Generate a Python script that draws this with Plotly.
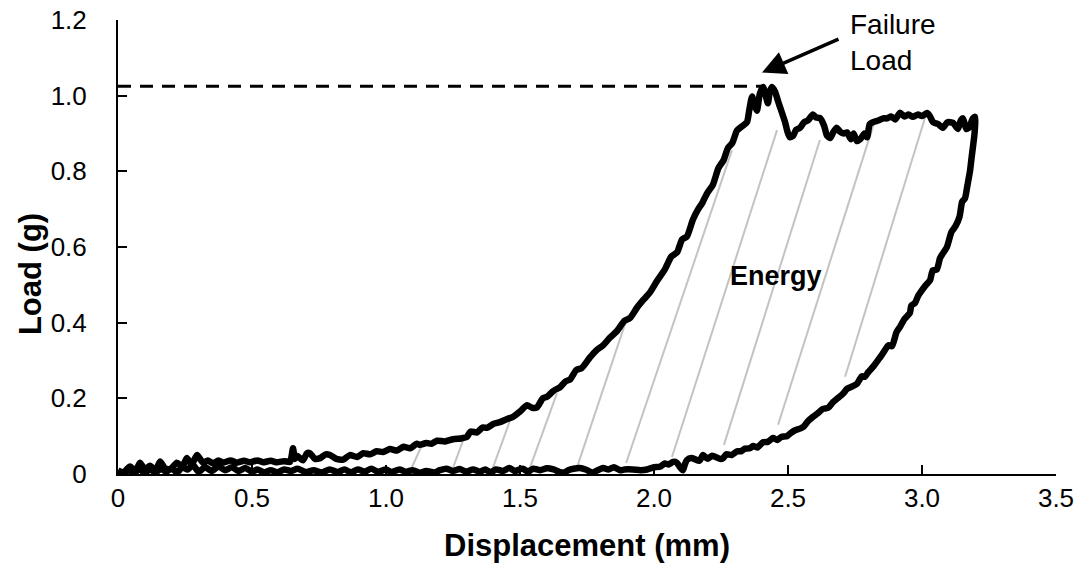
import plotly.graph_objects as go

# Loading branch (upper curve), displacement in mm and load in g
load_x = [0.000, 0.020, 0.045, 0.065, 0.082, 0.100, 0.119, 0.140, 0.157, 0.175, 0.195, 0.220,
          0.240, 0.257, 0.275, 0.295, 0.317, 0.335, 0.354, 0.375, 0.392, 0.420, 0.444, 0.470,
          0.493, 0.520, 0.541, 0.570, 0.593, 0.620, 0.642, 0.653, 0.660, 0.668, 0.690, 0.705,
          0.716, 0.735, 0.754, 0.775, 0.791, 0.815, 0.840, 0.865, 0.892, 0.915, 0.940, 0.965,
          0.989, 1.015, 1.041, 1.065, 1.090, 1.115, 1.127, 1.150, 1.170, 1.190, 1.220, 1.250,
          1.280, 1.302, 1.315, 1.340, 1.360, 1.377, 1.400, 1.425, 1.450, 1.474, 1.500, 1.526,
          1.545, 1.563, 1.585, 1.601, 1.625, 1.649, 1.670, 1.687, 1.710, 1.730, 1.761, 1.787,
          1.810, 1.835, 1.862, 1.890, 1.910, 1.937, 1.960, 1.985, 2.011, 2.040, 2.065, 2.086,
          2.105, 2.123, 2.145, 2.165, 2.180, 2.198, 2.220, 2.240, 2.260, 2.276, 2.292, 2.310,
          2.330, 2.347, 2.355, 2.366, 2.375, 2.384, 2.395, 2.407, 2.417, 2.425, 2.432, 2.440,
          2.452, 2.463, 2.475, 2.489, 2.498, 2.507, 2.520, 2.530, 2.545, 2.560, 2.575, 2.593,
          2.605, 2.619, 2.635, 2.645, 2.657, 2.670, 2.682, 2.694, 2.708, 2.720, 2.735, 2.745,
          2.757, 2.770, 2.785, 2.795, 2.805, 2.817, 2.840, 2.855, 2.869, 2.885, 2.900, 2.918,
          2.935, 2.950, 2.966, 2.985, 3.000, 3.019, 3.030, 3.041, 3.060, 3.078, 3.095, 3.116,
          3.134, 3.145, 3.153, 3.165, 3.175, 3.190, 3.198]
load_y = [0.010, 0.004, 0.020, 0.008, 0.030, 0.012, 0.022, 0.010, 0.033, 0.015, 0.012, 0.030,
          0.020, 0.042, 0.025, 0.050, 0.030, 0.036, 0.028, 0.036, 0.030, 0.036, 0.030, 0.035,
          0.031, 0.036, 0.031, 0.035, 0.031, 0.034, 0.032, 0.068, 0.040, 0.048, 0.036, 0.055,
          0.055, 0.040, 0.042, 0.052, 0.050, 0.040, 0.038, 0.050, 0.045, 0.055, 0.052, 0.060,
          0.058, 0.066, 0.062, 0.072, 0.068, 0.080, 0.077, 0.082, 0.080, 0.088, 0.086, 0.092,
          0.094, 0.098, 0.112, 0.110, 0.123, 0.122, 0.132, 0.137, 0.145, 0.151, 0.165, 0.182,
          0.175, 0.176, 0.200, 0.204, 0.220, 0.229, 0.245, 0.250, 0.275, 0.280, 0.308, 0.328,
          0.340, 0.360, 0.378, 0.405, 0.412, 0.440, 0.460, 0.480, 0.510, 0.540, 0.575, 0.586,
          0.620, 0.628, 0.672, 0.700, 0.716, 0.742, 0.765, 0.808, 0.830, 0.862, 0.875, 0.908,
          0.920, 0.930, 0.960, 0.998, 0.975, 0.960, 1.005, 1.023, 1.000, 0.980, 1.010, 1.023,
          1.010, 0.985, 0.960, 0.930, 0.905, 0.890, 0.895, 0.910, 0.915, 0.930, 0.935, 0.950,
          0.942, 0.941, 0.920, 0.895, 0.888, 0.905, 0.915, 0.905, 0.900, 0.903, 0.885, 0.900,
          0.880, 0.885, 0.900, 0.890, 0.925, 0.930, 0.935, 0.940, 0.940, 0.945, 0.937, 0.955,
          0.945, 0.950, 0.944, 0.950, 0.946, 0.954, 0.945, 0.930, 0.925, 0.915, 0.930, 0.928,
          0.912, 0.935, 0.940, 0.912, 0.915, 0.940, 0.944]

# Unloading branch (lower curve), running back towards zero displacement
unload_x = [3.196, 3.190, 3.184, 3.179, 3.170, 3.160, 3.150, 3.140, 3.125, 3.110, 3.093, 3.075,
            3.067, 3.055, 3.040, 3.030, 3.015, 3.000, 2.985, 2.974, 2.960, 2.955, 2.935, 2.918,
            2.905, 2.888, 2.875, 2.855, 2.840, 2.817, 2.800, 2.787, 2.775, 2.757, 2.735, 2.720,
            2.705, 2.685, 2.668, 2.650, 2.630, 2.610, 2.593, 2.575, 2.558, 2.545, 2.525, 2.510,
            2.496, 2.475, 2.460, 2.444, 2.425, 2.407, 2.385, 2.370, 2.358, 2.340, 2.325, 2.310,
            2.290, 2.270, 2.258, 2.246, 2.230, 2.215, 2.200, 2.183, 2.170, 2.150, 2.140, 2.123,
            2.115, 2.108, 2.095, 2.085, 2.071, 2.055, 2.040, 2.022, 2.000, 1.974, 1.950, 1.920,
            1.890, 1.873, 1.850, 1.830, 1.810, 1.790, 1.770, 1.745, 1.724, 1.700, 1.680, 1.665,
            1.649, 1.625, 1.600, 1.575, 1.549, 1.530, 1.510, 1.480, 1.460, 1.437, 1.410, 1.390,
            1.370, 1.350, 1.325, 1.300, 1.275, 1.250, 1.225, 1.201, 1.180, 1.150, 1.127, 1.100,
            1.075, 1.050, 1.020, 1.000, 0.970, 0.945, 0.920, 0.895, 0.870, 0.845, 0.820, 0.790,
            0.760, 0.730, 0.700, 0.670, 0.645, 0.620, 0.595, 0.570, 0.545, 0.520, 0.500, 0.475,
            0.450, 0.425, 0.400, 0.375, 0.350, 0.325, 0.300, 0.280, 0.260, 0.240, 0.220, 0.200,
            0.180, 0.160, 0.140, 0.120, 0.100, 0.080, 0.060, 0.040, 0.020, 0.000]
unload_y = [0.900, 0.864, 0.830, 0.800, 0.765, 0.728, 0.720, 0.680, 0.655, 0.640, 0.600, 0.580,
            0.570, 0.540, 0.538, 0.512, 0.500, 0.486, 0.470, 0.452, 0.445, 0.426, 0.410, 0.389,
            0.375, 0.338, 0.340, 0.320, 0.305, 0.283, 0.270, 0.257, 0.258, 0.238, 0.230, 0.225,
            0.212, 0.200, 0.190, 0.175, 0.172, 0.160, 0.151, 0.140, 0.125, 0.120, 0.115, 0.108,
            0.100, 0.098, 0.090, 0.095, 0.085, 0.084, 0.070, 0.074, 0.068, 0.067, 0.060, 0.060,
            0.050, 0.052, 0.042, 0.040, 0.045, 0.048, 0.040, 0.050, 0.035, 0.040, 0.042, 0.037,
            0.025, 0.010, 0.020, 0.030, 0.032, 0.025, 0.028, 0.019, 0.018, 0.012, 0.010, 0.012,
            0.012, 0.010, 0.018, 0.012, 0.016, 0.010, 0.004, 0.012, 0.016, 0.014, 0.010, 0.004,
            0.005, 0.012, 0.015, 0.010, 0.014, 0.006, 0.014, 0.008, 0.016, 0.008, 0.012, 0.004,
            0.012, 0.006, 0.012, 0.006, 0.013, 0.008, 0.014, 0.010, 0.004, 0.008, 0.003, 0.010,
            0.006, 0.012, 0.005, 0.012, 0.006, 0.014, 0.006, 0.012, 0.004, 0.012, 0.005, 0.012,
            0.004, 0.010, 0.005, 0.014, 0.008, 0.012, 0.004, 0.010, 0.004, 0.012, 0.006, 0.016,
            0.008, 0.018, 0.010, 0.020, 0.008, 0.018, 0.006, 0.024, 0.012, 0.018, 0.004, 0.016,
            0.006, 0.014, 0.004, 0.012, 0.004, 0.012, 0.004, 0.010, 0.003, 0.006]

# Hatching for the energy area: each stroke runs from the lower curve to the upper curve
hatch_x_low = [1.090, 1.250, 1.396, 1.537, 1.713, 1.896, 2.067, 2.261, 2.463, 2.713]
hatch_y_low = [0.008, 0.016, 0.011, 0.016, 0.018, 0.029, 0.045, 0.077, 0.130, 0.257]
hatch_x_high = [1.138, 1.295, 1.466, 1.638, 1.903, 2.291, 2.459, 2.619, 2.825, 3.011]
hatch_y_high = [0.082, 0.103, 0.148, 0.214, 0.420, 0.856, 0.909, 0.883, 0.936, 0.941]

failure_load = 1.025
failure_disp = 2.40

x_ticks = [0, 0.5, 1.0, 1.5, 2.0, 2.5, 3.0, 3.5]
x_tick_text = ["0", "0.5", "1.0", "1.5", "2.0", "2.5", "3.0", "3.5"]
y_ticks = [0, 0.2, 0.4, 0.6, 0.8, 1.0, 1.2]
y_tick_text = ["0", "0.2", "0.4", "0.6", "0.8", "1.0", "1.2"]

FONT = "Arial, 'Liberation Sans', sans-serif"

fig = go.Figure()

# hatch strokes as one trace, separated by gaps
hx, hy = [], []
for x0, y0, x1, y1 in zip(hatch_x_low, hatch_y_low, hatch_x_high, hatch_y_high):
    hx += [x0, x1, None]
    hy += [y0, y1, None]
fig.add_trace(go.Scatter(x=hx, y=hy, mode="lines",
                         line=dict(color="#c3c3c3", width=2), hoverinfo="skip"))

# full load-displacement loop
fig.add_trace(go.Scatter(x=load_x + unload_x, y=load_y + unload_y, mode="lines",
                         line=dict(color="black", width=6.5, shape="spline", smoothing=0.6)))

# failure load reference
fig.add_trace(go.Scatter(x=[0, failure_disp], y=[failure_load, failure_load], mode="lines",
                         line=dict(color="black", width=3, dash="13px,9px")))

fig.add_annotation(x=2.403, y=1.061, ax=2.694, ay=1.151, xref="x", yref="y",
                   axref="x", ayref="y", text="", showarrow=True,
                   arrowhead=2, arrowsize=1.35, arrowwidth=3.5, arrowcolor="black")
fig.add_annotation(x=2.724, y=1.14, xref="x", yref="y", text="Failure<br>Load",
                   showarrow=False, xanchor="left", yanchor="middle", align="left",
                   font=dict(family=FONT, size=28, color="black"))
fig.add_annotation(x=2.455, y=0.523, xref="x", yref="y", text="<b>Energy</b>",
                   showarrow=False, font=dict(family=FONT, size=27, color="black"))

# y-axis title placed as a rotated annotation
fig.add_annotation(x=-0.094, y=0.44, xref="paper", yref="paper", text="<b>Load (g)</b>",
                   textangle=-90, showarrow=False, xanchor="center", yanchor="middle",
                   font=dict(family=FONT, size=31, color="black"))

axis_common = dict(showline=True, linecolor="black", linewidth=2, ticks="inside",
                   ticklen=9, tickwidth=2, tickcolor="black", showgrid=False,
                   zeroline=False, tickfont=dict(family=FONT, size=26, color="black"))

fig.update_xaxes(range=[0, 3.5], tickvals=x_ticks, ticktext=x_tick_text,
                 ticklabelstandoff=0,
                 title=dict(text="<b>Displacement (mm)</b>", standoff=22,
                            font=dict(family=FONT, size=31, color="black")),
                 **axis_common)
fig.update_yaxes(range=[0, 1.2], tickvals=y_ticks, ticktext=y_tick_text,
                 ticklabelstandoff=24, **axis_common)

fig.update_layout(width=1080, height=573, showlegend=False,
                  margin=dict(l=118, r=24, t=20, b=99, autoexpand=False),
                  plot_bgcolor="white", paper_bgcolor="white")

fig.write_html("out.html")
